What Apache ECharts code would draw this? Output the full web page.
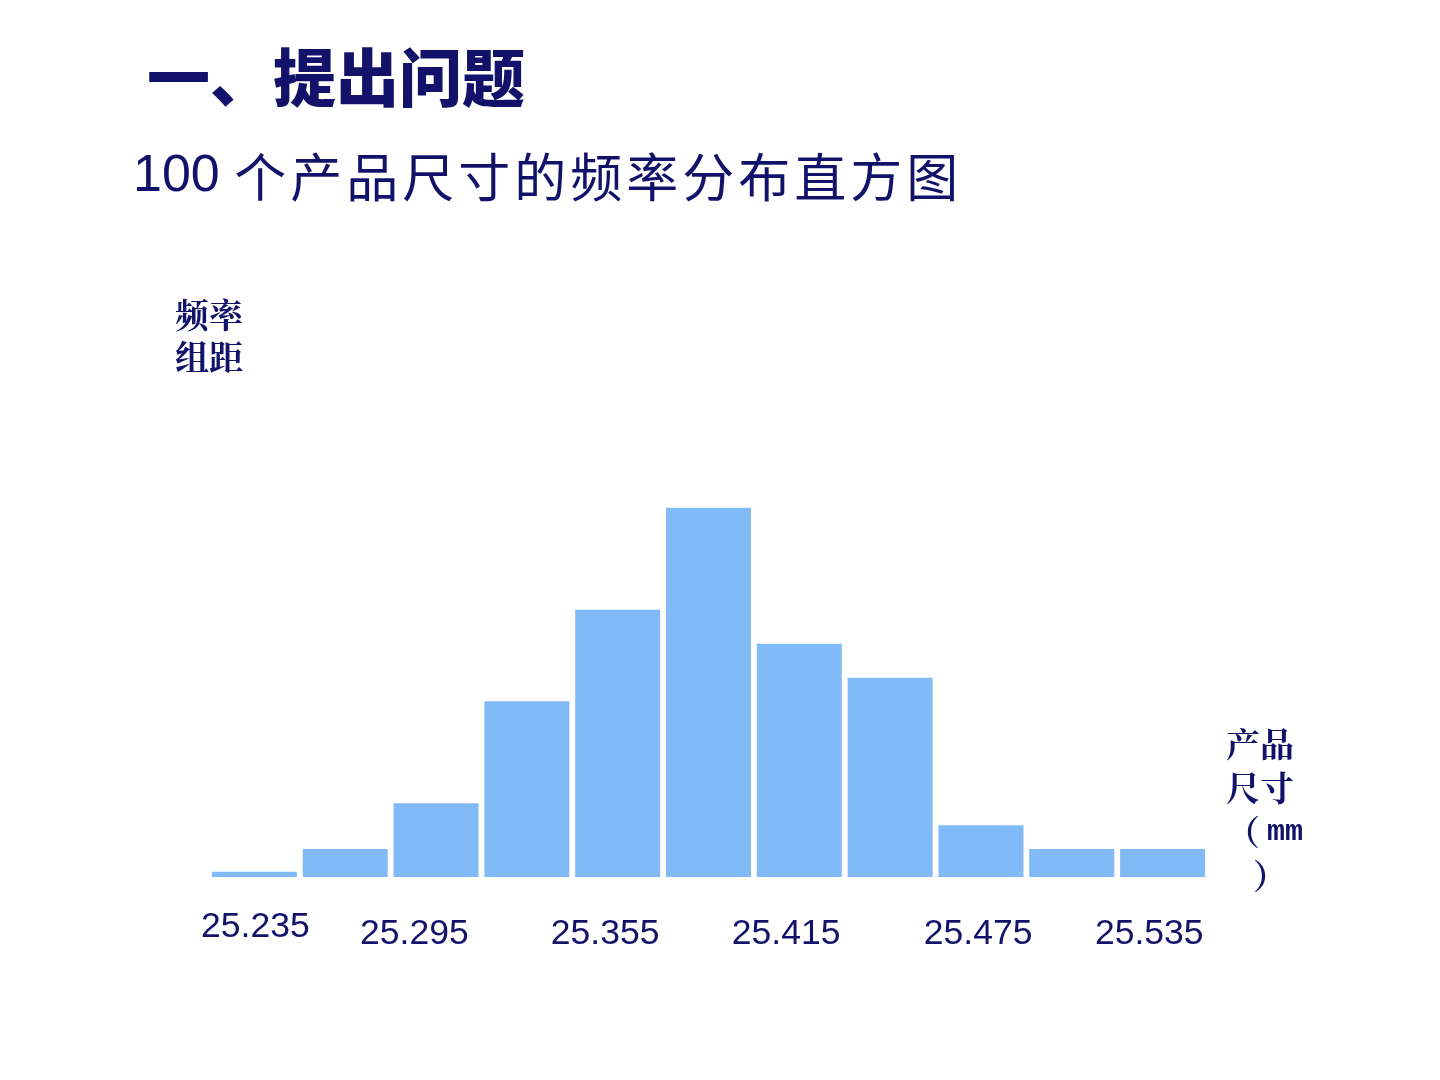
<!DOCTYPE html>
<html>
<head>
<meta charset="utf-8">
<script src="https://cdn.jsdelivr.net/npm/echarts@6/dist/echarts.min.js"></script>
<style>
  html, body { margin: 0; padding: 0; background: #ffffff; }
  #chart { width: 1440px; height: 1080px; }
</style>
</head>
<body>
<div id="chart"></div>
<script>
// ---- data ----
const mainTitle = '一、提出问题';
const subTitleNumber = '100';
const subTitleText = '个产品尺寸的频率分布直方图';
const binStarts = ['25.235', '25.265', '25.295', '25.325', '25.355', '25.385',
                   '25.415', '25.445', '25.475', '25.505', '25.535'];
const frequencies = [0.35, 1.9, 5.0, 11.9, 18.1, 25.0, 15.8, 13.5, 3.5, 1.9, 1.9];
const tickLabels = ['25.235', '25.295', '25.355', '25.415', '25.475', '25.535'];
const yAxisName = ['频率', '组距'];
const xAxisNameLines = ['产品', '尺寸', '（', 'mm', '）'];

// ---- layout (pixel nudges for the irregular tick labels: [dx, dy]) ----
const labelNudge = [[1, 0], [-21.7, 14], [-12.6, 15], [-13.2, 15], [-2.8, 15], [-13.4, 15]];

const navy = '#12126B';
const cjk = '"Noto Sans CJK SC", "Noto Sans CJK JP", sans-serif';
const serifCjk = '"Noto Serif CJK SC", "Noto Sans CJK SC", serif';

const rich = {};
labelNudge.forEach(function (n, i) {
  const dx = n[0], dy = n[1];
  rich['l' + i] = {
    fontFamily: '"Liberation Sans", Arial, sans-serif',
    fontSize: 35.5,
    lineHeight: 40,
    color: navy,
    padding: [dy, dx < 0 ? -2 * dx : 0, 0, dx > 0 ? 2 * dx : 0]
  };
});

// subtitle: one token per CJK character so they can be spaced like the reference
const subTitleRich = '{n|' + subTitleNumber + ' }' +
  subTitleText.split('').map(function (ch) { return '{c|' + ch + '}'; }).join('');

const chart = echarts.init(document.getElementById('chart'), null, { renderer: 'canvas' });
chart.setOption({
  backgroundColor: '#ffffff',
  animation: false,
  title: [
    {
      text: mainTitle,
      left: 142,
      top: 37,
      textStyle: {
        fontFamily: cjk,
        fontSize: 63,
        fontWeight: 900,
        lineHeight: 70,
        color: navy
      }
    },
    {
      text: subTitleRich,
      left: 128,
      top: 142,
      textStyle: {
        lineHeight: 60,
        fontWeight: 'normal',
        rich: {
          n: { fontFamily: '"Liberation Sans", Arial, sans-serif', fontSize: 52, fontWeight: 'normal', lineHeight: 60, color: navy },
          c: { fontFamily: cjk, fontSize: 52, fontWeight: 'normal', lineHeight: 60, color: navy, padding: [0, 4, 0, 0] }
        }
      }
    }
  ],
  grid: {
    left: 209,
    right: 232,
    top: 434,
    bottom: 203,
    containLabel: false,
    outerBoundsMode: 'none'
  },
  xAxis: {
    type: 'category',
    data: binStarts,
    axisLine: { show: false },
    axisTick: { show: false },
    splitLine: { show: false },
    axisLabel: {
      interval: 1,
      margin: 30,
      formatter: function (value, index) {
        const k = index / 2;
        return '{l' + k + '|' + tickLabels[k] + '}';
      },
      rich: rich
    },
    name: '{a|' + xAxisNameLines[0] + '}\n{a|' + xAxisNameLines[1] + '}\n{a|' +
          xAxisNameLines[2] + '}{m|' + xAxisNameLines[3] + '}\n{p|' + xAxisNameLines[4] + '}',
    nameLocation: 'end',
    nameGap: 18,
    nameTextStyle: {
      align: 'left',
      verticalAlign: 'middle',
      padding: [0, 0, 134, 0],
      rich: {
        a: { fontFamily: serifCjk, fontSize: 34, lineHeight: 44, color: navy, fontWeight: 'bold' },
        m: { fontFamily: '"Liberation Mono", monospace', fontSize: 30, lineHeight: 44, color: navy, fontWeight: 'bold', padding: [0, 0, 0, 7] },
        p: { fontFamily: serifCjk, fontSize: 34, lineHeight: 44, color: navy, fontWeight: 'bold', padding: [0, 0, 0, 27] }
      }
    }
  },
  yAxis: {
    type: 'value',
    min: 0,
    max: 30,
    axisLine: { show: false },
    axisTick: { show: false },
    axisLabel: { show: false },
    splitLine: { show: false },
    name: yAxisName.join('\n'),
    nameLocation: 'end',
    nameGap: 56,
    nameTextStyle: {
      fontFamily: serifCjk,
      fontSize: 34,
      fontWeight: 'bold',
      lineHeight: 42,
      color: navy,
      align: 'center'
    }
  },
  series: [{
    type: 'bar',
    data: frequencies,
    barCategoryGap: '6.4%',
    itemStyle: { color: '#80BAF7' },
    silent: true
  }]
});
</script>
</body>
</html>
